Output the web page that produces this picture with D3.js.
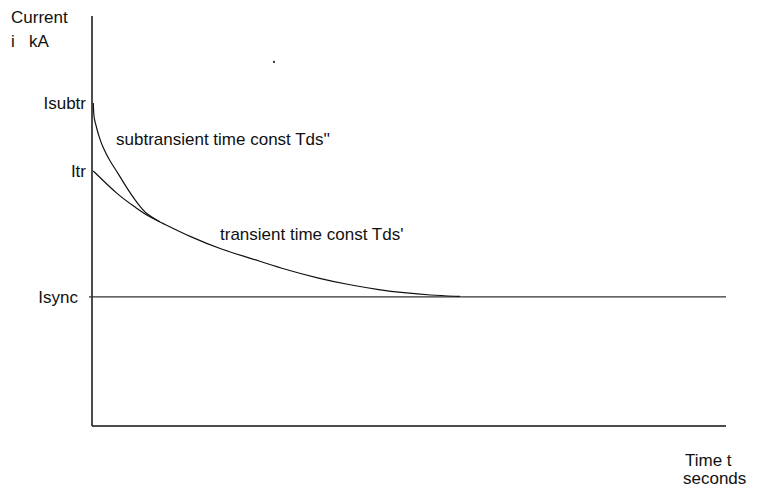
<!DOCTYPE html>
<html lang="en">
   <head>
      <meta charset="UTF-8">
      <title>Short circuit current decay</title>
      <script src="https://d3js.org/d3.v7.min.js"></script>
      <style>
         body { margin: 0; background: #fff; }
         text { font-family: "Liberation Sans", Arial, sans-serif; font-size: 17px; fill: #111; }
      </style>
   </head>
   <body>
      <div id="my_dataviz"></div>
      <script>
         // current levels (arbitrary units, axis 0..100)
         var levelNames = ["Isubtr", "Itr", "Isync"];
         var levelValues = [78.8, 62.2, 31.5];

         // transient envelope
         var transientT = [0.2, 4.1, 6.8, 8.8, 10.7, 15.5, 20.7, 24.9, 29.7, 36.0, 40.7, 45.4, 49.1, 53.3, 58.0];
         var transientI = [62.2, 56.3, 53.4, 51.2, 49.8, 46.1, 42.9, 41.0, 38.5, 35.9, 34.4, 33.2, 32.5, 31.9, 31.6];

         // subtransient curve, merges into the transient one
         var subT = [0.2, 0.3, 0.5, 1.1, 1.7, 2.8, 4.1, 5.5, 6.8, 7.9, 8.8, 10.7];
         var subI = [78.8, 75.1, 74.1, 70.5, 68.0, 64.6, 61.7, 58.0, 55.1, 52.9, 51.5, 49.8];

         var strayDot = [[28.7, 88.8]];

         var margin = {top: 16, right: 32, bottom: 63, left: 92},
             width = 758 - margin.left - margin.right,
             height = 489 - margin.top - margin.bottom;

         var root = d3.select("#my_dataviz")
           .append("svg")
             .attr("width", 758)
             .attr("height", 489);

         var svg = root.append("g")
             .attr("transform", "translate(" + margin.left + "," + margin.top + ")");

         var x = d3.scaleLinear().domain([0, 100]).range([0, width]);
         var y = d3.scaleLinear().domain([0, 100]).range([height, 0]);

         // axes: plain lines, no ticks
         svg.append("line")
            .attr("x1", x(0)).attr("x2", x(0))
            .attr("y1", y(0)).attr("y2", y(100))
            .attr("stroke", "#111").attr("stroke-width", 1.5);
         svg.append("line")
            .attr("x1", x(0)).attr("x2", x(100))
            .attr("y1", y(0)).attr("y2", y(0))
            .attr("stroke", "#111").attr("stroke-width", 1.5);

         // steady state line
         svg.append("line")
            .attr("x1", x(0) - 3).attr("x2", x(100))
            .attr("y1", y(levelValues[2])).attr("y2", y(levelValues[2]))
            .attr("stroke", "#333").attr("stroke-width", 1.3);

         var line = d3.line()
            .x(function(d) { return x(d[0]); })
            .y(function(d) { return y(d[1]); })
            .curve(d3.curveBasis);

         var transient = transientT.map(function(t, i) { return [t, transientI[i]]; });
         var sub = subT.map(function(t, i) { return [t, subI[i]]; });

         svg.append("path")
            .datum(transient)
            .attr("fill", "none")
            .attr("stroke", "#111")
            .attr("stroke-width", 1.2)
            .attr("d", line);

         svg.append("path")
            .datum(sub)
            .attr("fill", "none")
            .attr("stroke", "#111")
            .attr("stroke-width", 1.2)
            .attr("d", line);

         svg.selectAll(".dot")
            .data(strayDot)
            .enter().append("rect")
            .attr("x", function(d) { return x(d[0]) - 1; })
            .attr("y", function(d) { return y(d[1]) - 1; })
            .attr("width", 2).attr("height", 2)
            .attr("fill", "#333");

         // level labels left of the axis
         var labelEnd = [-6, -6, -14];
         svg.selectAll(".lvl")
            .data(levelNames)
            .enter().append("text")
            .attr("x", function(d, i) { return labelEnd[i]; })
            .attr("y", function(d, i) { return y(levelValues[i]); })
            .attr("dy", "0.35em")
            .attr("text-anchor", "end")
            .text(function(d) { return d; });

         // curve annotations
         svg.append("text")
            .attr("x", 24).attr("y", 129)
            .text("subtransient time const Tds''");
         svg.append("text")
            .attr("x", 128).attr("y", 224)
            .text("transient time const Tds'");

         // axis titles
         root.append("text").attr("x", 11).attr("y", 23).text("Current");
         root.append("text").attr("x", 11).attr("y", 47).attr("xml:space", "preserve").text("i   kA");
         root.append("text").attr("x", 685).attr("y", 466).text("Time t");
         root.append("text").attr("x", 683).attr("y", 484).text("seconds");
      </script>
   </body>
</html>
